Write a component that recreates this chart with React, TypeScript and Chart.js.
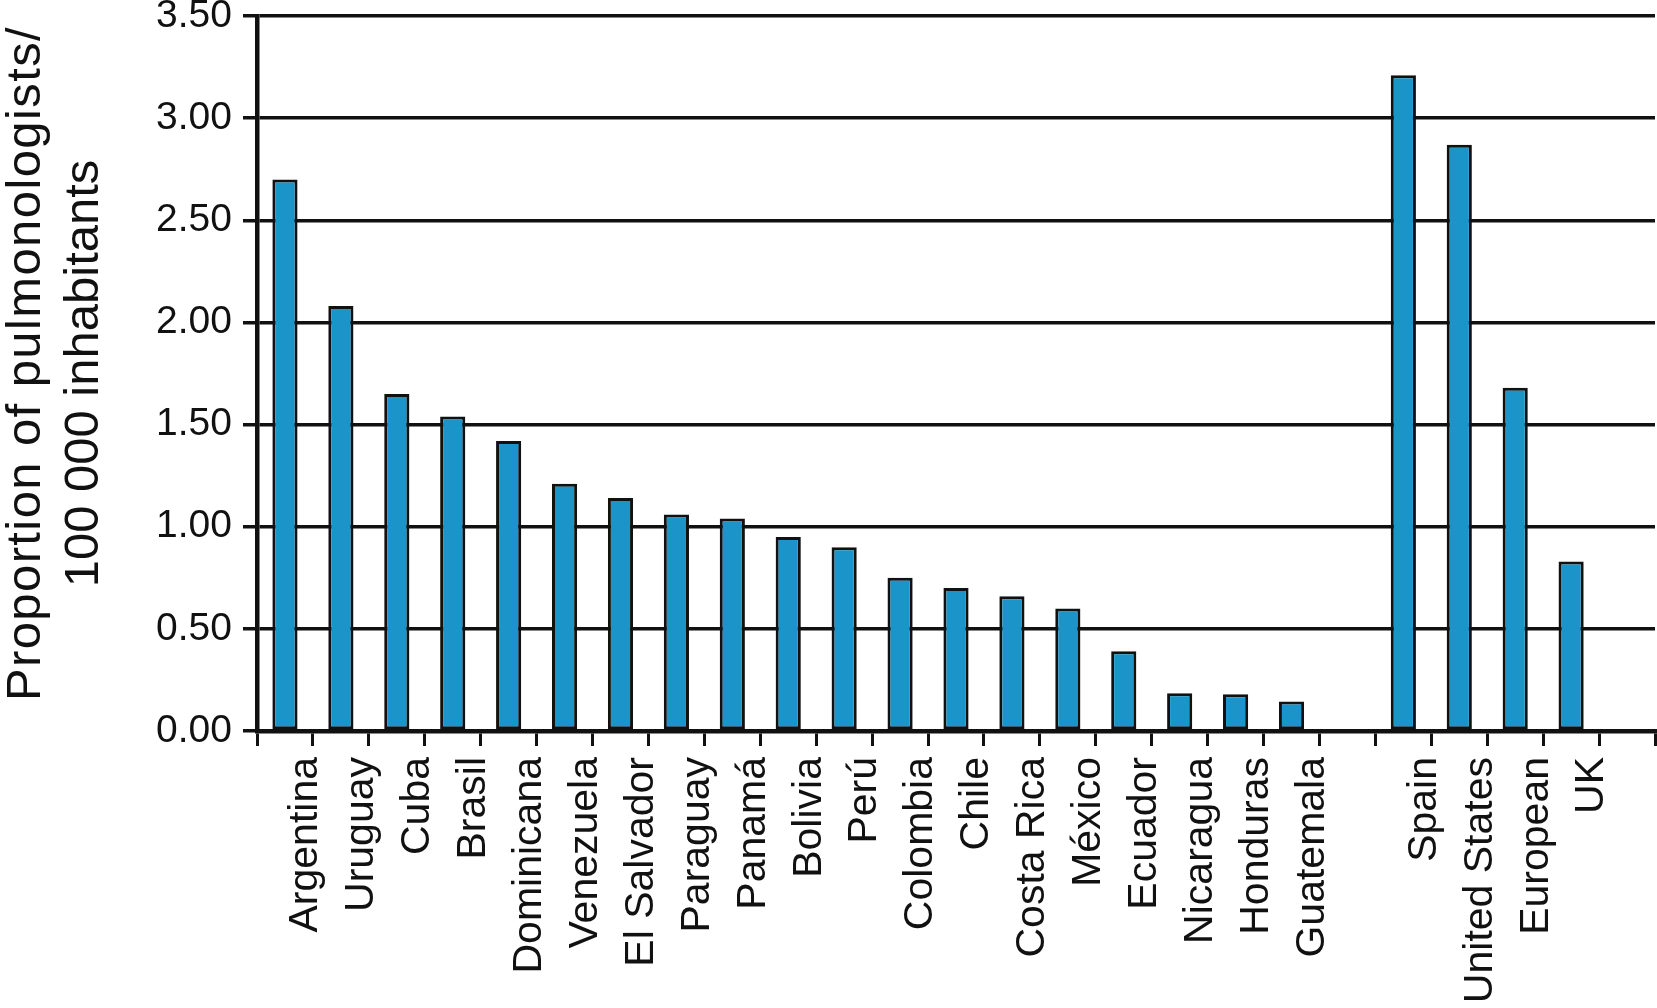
import React, { useEffect, useRef } from 'react';
import { Chart, registerables } from 'chart.js';

Chart.register(...registerables);

const categories: string[] = [
  'Argentina', 'Uruguay', 'Cuba', 'Brasil', 'Dominicana', 'Venezuela', 'El Salvador',
  'Paraguay', 'Panamá', 'Bolivia', 'Perú', 'Colombia', 'Chile', 'Costa Rica', 'México',
  'Ecuador', 'Nicaragua', 'Honduras', 'Guatemala', '', 'Spain', 'United States', 'European', 'UK', '',
];

const values: (number | null)[] = [
  2.70, 2.08, 1.65, 1.54, 1.42, 1.21, 1.14,
  1.06, 1.04, 0.95, 0.90, 0.75, 0.70, 0.66, 0.60,
  0.39, 0.185, 0.18, 0.145, null, 3.21, 2.87, 1.68, 0.83, null,
];

const yMin = 0;
const yMax = 3.5;
const yStep = 0.5;

const yTitleLines: string[] = ['Proportion of pulmonologists/', '100 000 inhabitants'];

const FONT = '"Liberation Sans", Arial, Helvetica, sans-serif';
const INK = '#111111';
const BAR = '#1b95c9';

const yTitlePlugin = {
  id: 'yTitleLines',
  afterDraw(chart: any) {
    const ctx = chart.ctx as CanvasRenderingContext2D;
    const mid = (chart.chartArea.top + chart.chartArea.bottom) / 2;
    const xs = [26, 84];
    const cys = [mid - 10, mid];
    const spacing = ['1.4px', '0px'];
    ctx.save();
    ctx.fillStyle = INK;
    ctx.font = `49px ${FONT}`;
    ctx.textAlign = 'center';
    ctx.textBaseline = 'middle';
    yTitleLines.forEach((line, i) => {
      ctx.save();
      (ctx as any).letterSpacing = spacing[i];
      ctx.translate(xs[i], cys[i]);
      ctx.rotate(-Math.PI / 2);
      ctx.fillText(line, 0, 0);
      ctx.restore();
    });
    ctx.restore();
  },
};

export default function App() {
  const canvasRef = useRef<HTMLCanvasElement | null>(null);

  useEffect(() => {
    if (!canvasRef.current) return;
    const chart = new Chart(canvasRef.current, {
      type: 'bar',
      data: {
        labels: categories,
        datasets: [
          {
            data: values,
            backgroundColor: BAR,
            borderColor: INK,
            borderWidth: 3,
            borderSkipped: false,
            barPercentage: 0.45,
            categoryPercentage: 1,
          },
        ],
      },
      options: {
        animation: false,
        responsive: true,
        maintainAspectRatio: false,
        layout: { padding: { top: 16, right: 2, left: 0, bottom: 0 } },
        plugins: {
          legend: { display: false },
          tooltip: { enabled: false },
          title: { display: false },
        },
        scales: {
          x: {
            type: 'category',
            offset: true,
            grid: {
              display: true,
              drawOnChartArea: false,
              drawTicks: true,
              tickLength: 15,
              tickWidth: 3,
              tickColor: INK,
              color: INK,
              lineWidth: 3,
              offset: true,
            },
            border: { display: true, color: INK, width: 4.5 },
            ticks: {
              autoSkip: false,
              maxRotation: 90,
              minRotation: 90,
              padding: 11,
              labelOffset: 21,
              color: INK,
              font: { family: FONT, size: 41 },
            },
            afterFit: (s: any) => {
              s.height = 277;
              s.paddingLeft = 0;
              s.paddingRight = 0;
            },
          },
          y: {
            min: yMin,
            max: yMax,
            grid: {
              color: INK,
              lineWidth: 3.5,
              drawTicks: true,
              tickLength: 14,
              tickColor: INK,
              tickWidth: 3.5,
            },
            border: { display: true, color: INK, width: 4.5 },
            ticks: {
              stepSize: yStep,
              padding: 11,
              color: INK,
              font: { family: FONT, size: 39 },
              callback: (v: any) => Number(v).toFixed(2),
            },
            afterFit: (s: any) => {
              s.width = 257;
              s.paddingTop = 0;
              s.paddingBottom = 0;
            },
          },
        },
      },
      plugins: [yTitlePlugin],
    } as any);
    return () => chart.destroy();
  }, []);

  return (
    <div style={{ position: 'fixed', left: 0, top: 0, width: '1657px', height: '1008px', background: '#ffffff' }}>
      <canvas ref={canvasRef} />
    </div>
  );
}
